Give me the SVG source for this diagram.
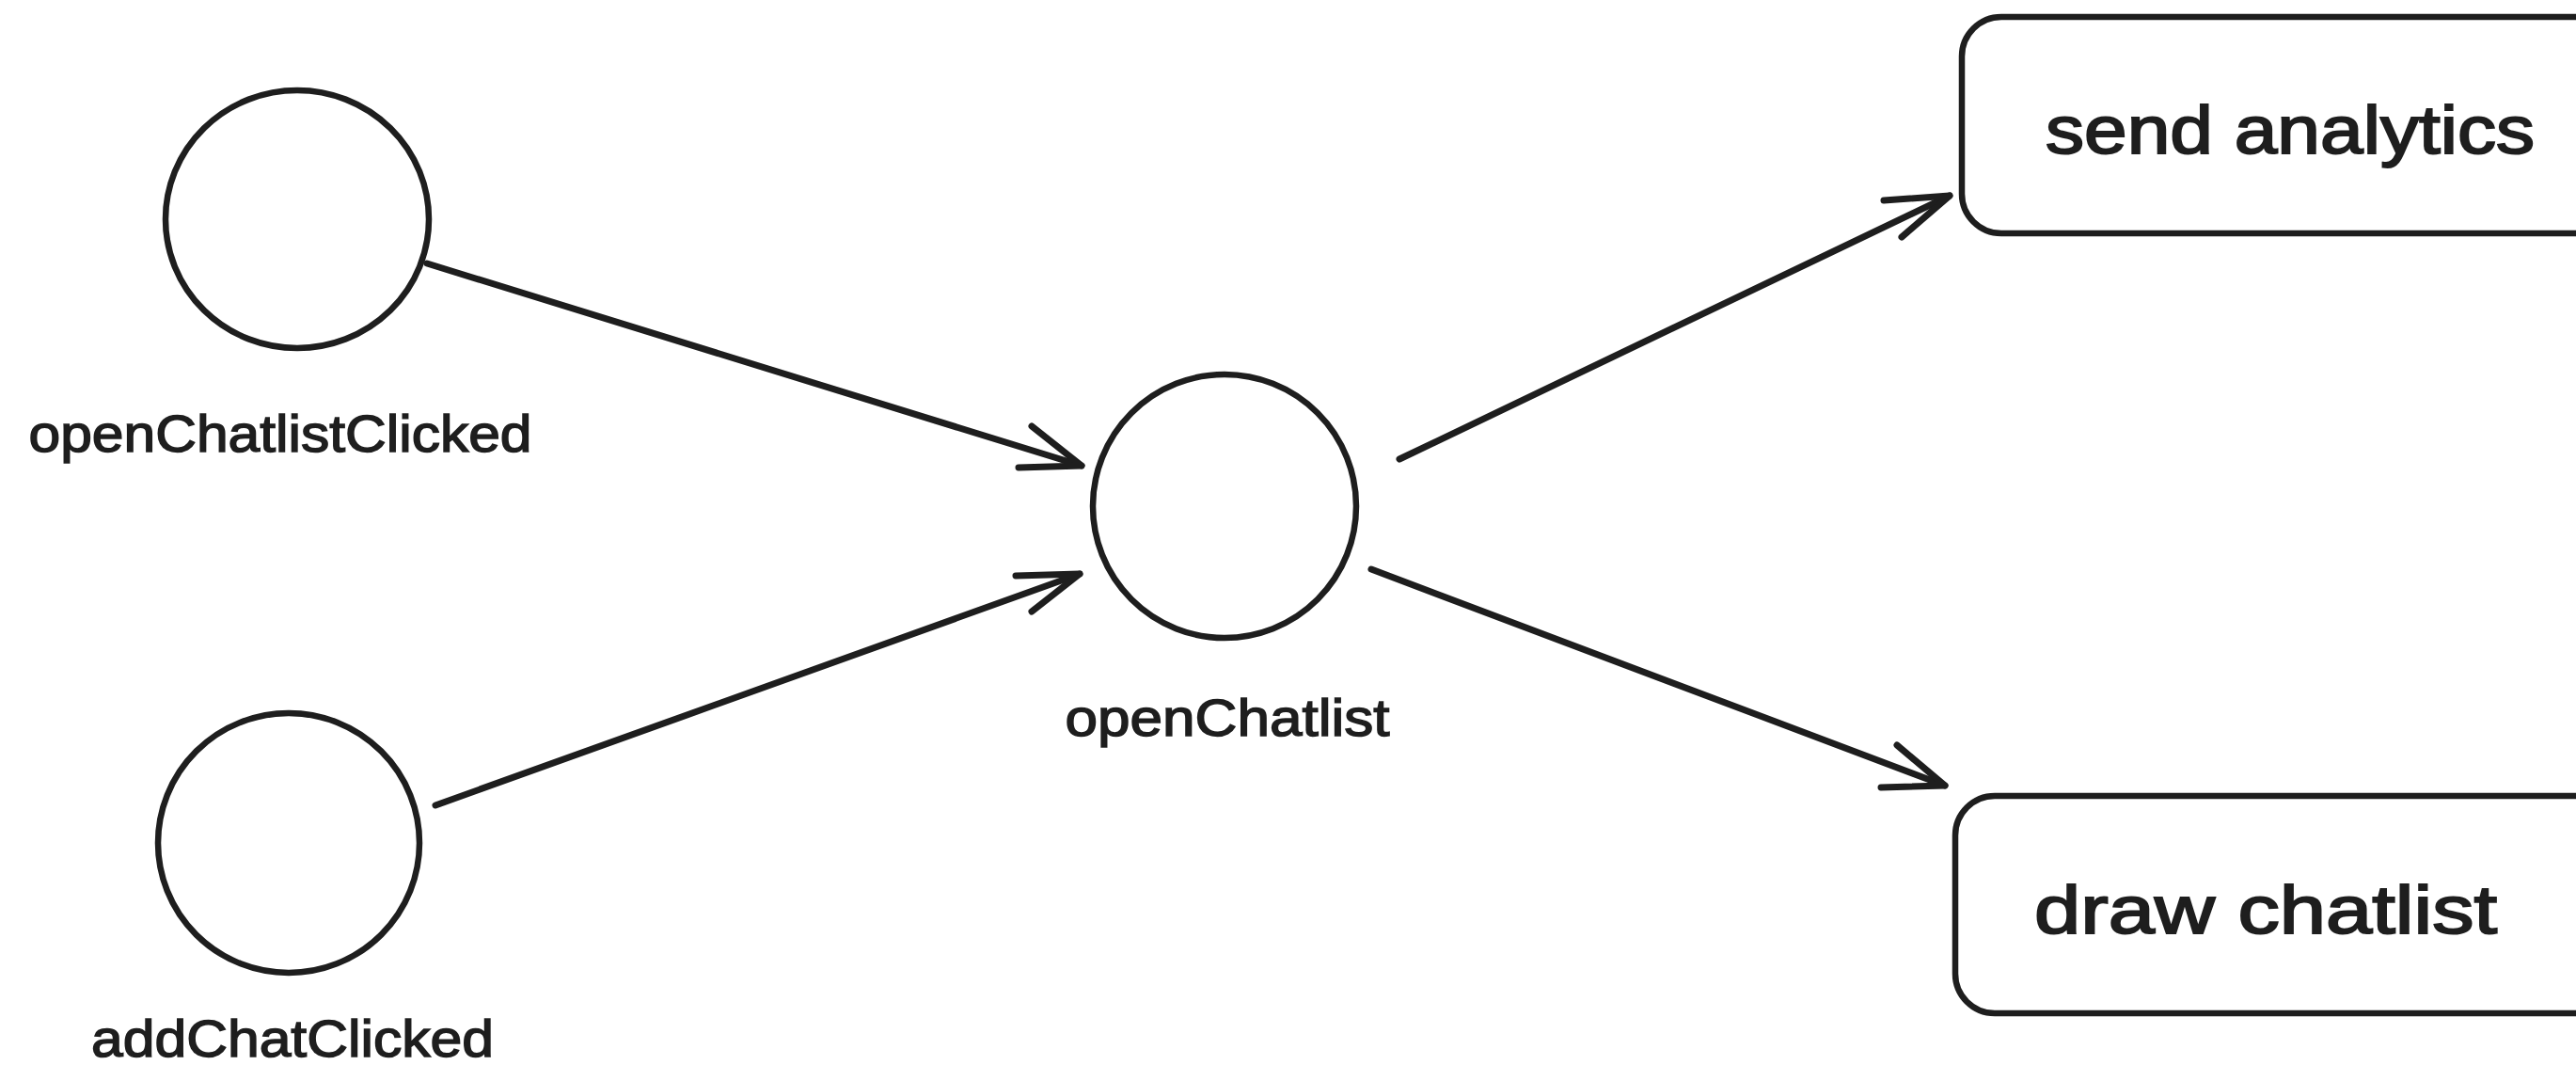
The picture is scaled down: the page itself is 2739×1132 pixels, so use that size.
<svg xmlns="http://www.w3.org/2000/svg" width="2739" height="1132" viewBox="0 0 2739 1132">
<style>
.node{fill:#ffffff;stroke:#1e1e1e;stroke-width:6.5}
.edge{fill:none;stroke:#1e1e1e;stroke-width:7;stroke-linecap:round;stroke-linejoin:round}
.lbl{font-family:"Liberation Sans","DejaVu Sans",sans-serif;font-size:56px;fill:#1e1e1e;stroke:#1e1e1e;stroke-width:1.5;text-anchor:middle}
.box{font-family:"Liberation Sans","DejaVu Sans",sans-serif;font-size:72px;fill:#1e1e1e;stroke:#1e1e1e;stroke-width:2;text-anchor:middle}
</style>
<rect width="2739" height="1132" fill="#ffffff"/>
<g id="connectors">
<g id="e1"><path class="edge" d="M454,280 L1150,495"/><path class="edge" d="M1097,453 L1150,495 L1083,497"/></g>
<g id="e2"><path class="edge" d="M463,856 L1148,610"/><path class="edge" d="M1080,612 L1148,610 L1097,650"/></g>
<g id="e3"><path class="edge" d="M1488,488 L2073,208"/><path class="edge" d="M2003,213 L2073,208 L2022,252"/></g>
<g id="e4"><path class="edge" d="M1458,605 L2068,835"/><path class="edge" d="M2017,792 L2068,835 L2000,837"/></g>
</g>
<g id="openChatlistClicked">
<ellipse class="node" cx="316" cy="233" rx="140" ry="137"/>
<text class="lbl" x="298" y="480" textLength="535" lengthAdjust="spacingAndGlyphs">openChatlistClicked</text>
</g>
<g id="addChatClicked">
<ellipse class="node" cx="307" cy="896" rx="139" ry="138"/>
<text class="lbl" x="311" y="1123" textLength="428" lengthAdjust="spacingAndGlyphs">addChatClicked</text>
</g>
<g id="openChatlist">
<ellipse class="node" cx="1302" cy="538" rx="140" ry="140"/>
<text class="lbl" x="1305" y="782" textLength="345" lengthAdjust="spacingAndGlyphs">openChatlist</text>
</g>
<g id="sendAnalytics">
<rect class="node" x="2086" y="18" width="700" height="230" rx="42" ry="42"/>
<text class="box" x="2435" y="163" textLength="520" lengthAdjust="spacingAndGlyphs">send analytics</text>
</g>
<g id="drawChatlist">
<rect class="node" x="2079" y="846" width="700" height="231" rx="42" ry="42"/>
<text class="box" x="2409" y="992" textLength="492" lengthAdjust="spacingAndGlyphs">draw chatlist</text>
</g>
</svg>
